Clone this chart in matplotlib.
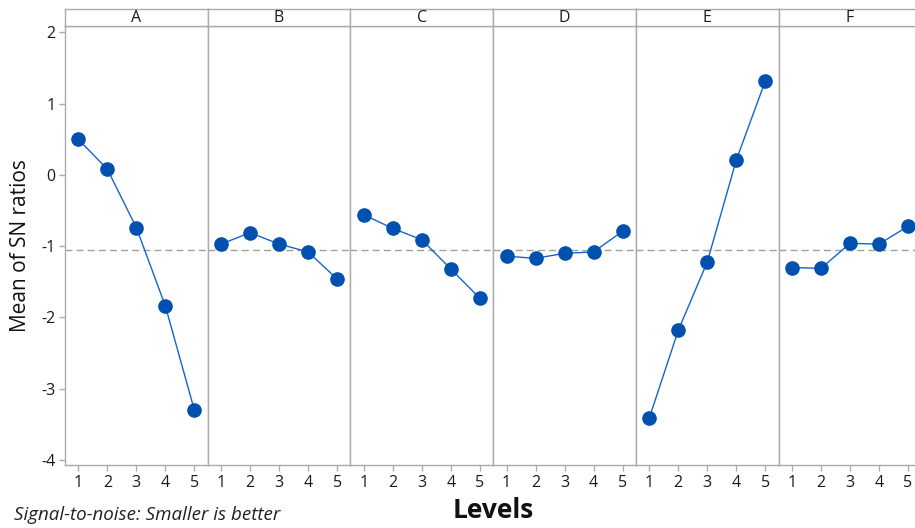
import matplotlib
matplotlib.use("Agg")
import matplotlib.pyplot as plt

plt.rcParams['font.family'] = ['Open Sans', 'DejaVu Sans']

factors = ['A', 'B', 'C', 'D', 'E', 'F']
levels = [1, 2, 3, 4, 5]
sn_a = [0.50, 0.08, -0.74, -1.84, -3.30]
sn_b = [-0.97, -0.81, -0.97, -1.08, -1.46]
sn_c = [-0.56, -0.75, -0.91, -1.32, -1.73]
sn_d = [-1.14, -1.17, -1.10, -1.08, -0.79]
sn_e = [-3.41, -2.18, -1.22, 0.21, 1.32]
sn_f = [-1.30, -1.31, -0.96, -0.97, -0.72]
grand_mean = -1.05
yticks = [2, 1, 0, -1, -2, -3, -4]

series = [sn_a, sn_b, sn_c, sn_d, sn_e, sn_f]
gray = '#ababab'

fig = plt.figure(figsize=(9.15, 5.28), dpi=100)
left, right = 65 / 915, 921.4 / 915
bottom, top = 1 - 465 / 528, 1 - 26 / 528
head_top = 1 - 8.5 / 528
w = (right - left) / 6

for i, (name, vals) in enumerate(zip(factors, series)):
    ax = fig.add_axes([left + i * w, bottom, w, top - bottom])
    ax.axhline(grand_mean, color='#a0a0a0', lw=1, ls=(0, (5, 3)), zorder=1)
    ax.plot(levels, vals, color='#1565c8', lw=1, marker='o', markersize=9.5,
            markerfacecolor='#0050b0', markeredgecolor='#0050b0', zorder=3)
    ax.set_xlim(0.54, 5.46)
    ax.set_ylim(-4.07, 2.09)
    ax.set_xticks(levels)
    ax.set_xticklabels([str(l) for l in levels])
    for s in ax.spines.values():
        s.set_color(gray)
        s.set_linewidth(1)
    ax.tick_params(axis='x', colors=gray, labelcolor='#1a1a1a', labelsize=11.5,
                   length=4, width=1, pad=3)
    if i == 0:
        ax.set_yticks(yticks)
        ax.set_yticklabels([str(t) for t in yticks])
        ax.tick_params(axis='y', colors=gray, labelcolor='#1a1a1a', labelsize=11.5,
                       length=4, width=1, pad=3)
        ax.set_ylabel('Mean of SN ratios', fontsize=15, color='#111111', labelpad=7)
    else:
        ax.set_yticks([])

    hx = fig.add_axes([left + i * w, top, w, head_top - top])
    hx.set_xticks([])
    hx.set_yticks([])
    for s in hx.spines.values():
        s.set_color(gray)
        s.set_linewidth(1)
    hx.text(0.5, 0.45, name, ha='center', va='center', fontsize=11.5, color='#1a1a1a',
            transform=hx.transAxes)

fig.text(493 / 915, 1 - 510 / 528, 'Levels', ha='center', va='center',
         fontsize=19, fontweight='bold', color='#111111')
fig.text(14 / 915, 1 - 515 / 528, 'Signal-to-noise: Smaller is better', ha='left',
         va='center', fontsize=13.5, style='italic', color='#222222')

fig.savefig('out.png', dpi=100)
